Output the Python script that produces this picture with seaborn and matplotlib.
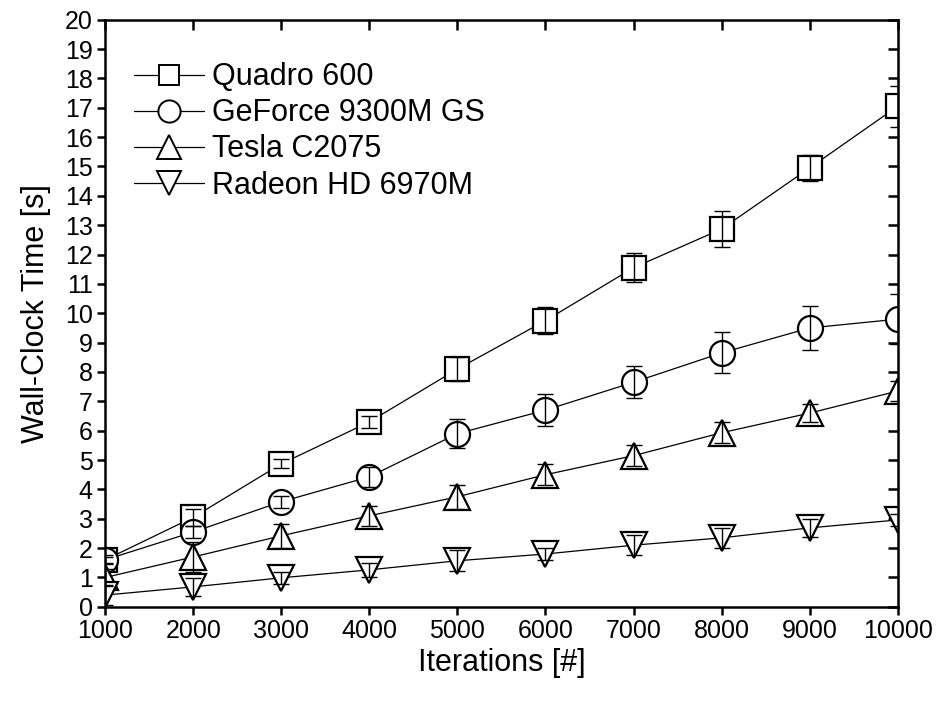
import seaborn as sns
import matplotlib.pyplot as plt
from matplotlib.lines import Line2D
import pandas as pd
import numpy as np

# datos
iteraciones = [1000, 2000, 3000, 4000, 5000, 6000, 7000, 8000, 9000, 10000]
gpus = ["Quadro 600", "GeForce 9300M GS", "Tesla C2075", "Radeon HD 6970M"]
quadro = [1.6, 3.05, 4.87, 6.3, 8.1, 9.75, 11.55, 12.87, 14.95, 17.05]
quadro_err = [0.15, 0.3, 0.15, 0.2, 0.4, 0.45, 0.5, 0.6, 0.45, 0.7]
geforce = [1.6, 2.55, 3.58, 4.43, 5.9, 6.7, 7.65, 8.65, 9.5, 9.8]
geforce_err = [0.1, 0.2, 0.2, 0.35, 0.5, 0.55, 0.55, 0.7, 0.75, 0.85]
tesla = [1.0, 1.7, 2.42, 3.1, 3.75, 4.5, 5.15, 5.93, 6.6, 7.35]
tesla_err = [0.3, 0.5, 0.4, 0.35, 0.4, 0.35, 0.35, 0.35, 0.3, 0.35]
radeon = [0.4, 0.68, 0.99, 1.26, 1.57, 1.8, 2.1, 2.35, 2.69, 2.96]
radeon_err = [0.35, 0.3, 0.2, 0.25, 0.35, 0.2, 0.35, 0.35, 0.3, 0.2]

valores = [quadro, geforce, tesla, radeon]
errores = [quadro_err, geforce_err, tesla_err, radeon_err]
marcadores = {"Quadro 600": "s", "GeForce 9300M GS": "o",
              "Tesla C2075": "^", "Radeon HD 6970M": "v"}
tamanos = {"s": 17, "o": 18, "^": 19, "v": 19}

df = pd.DataFrame({
    "Iteraciones": iteraciones * len(gpus),
    "Tiempo": sum(valores, []),
    "Error": sum(errores, []),
    "GPU": [g for g in gpus for _ in iteraciones],
})

sns.set_style("ticks")
plt.rcParams['font.family'] = ['Liberation Sans', 'DejaVu Sans']
plt.rcParams['text.color'] = 'black'
plt.rcParams['axes.labelcolor'] = 'black'
plt.rcParams['xtick.color'] = 'black'
plt.rcParams['ytick.color'] = 'black'
plt.rcParams['axes.edgecolor'] = 'black'

fig = plt.figure(figsize=(9.39, 7.04), dpi=100)
ax = fig.add_axes([0.112, 0.138, 0.844, 0.834])

# lineas
for g in gpus:
    sub = df[df["GPU"] == g]
    sns.lineplot(data=sub, x="Iteraciones", y="Tiempo", ax=ax, color="black",
                 lw=0.9, legend=False, zorder=2)
for line, g in zip(ax.get_lines(), gpus):
    m = marcadores[g]
    line.set_marker(m)
    line.set_markersize(tamanos[m])
    line.set_markerfacecolor("white")
    line.set_markeredgecolor("black")
    line.set_markeredgewidth(1.6)

# barras de error encima de los marcadores
for g in gpus:
    sub = df[df["GPU"] == g]
    ax.errorbar(sub["Iteraciones"], sub["Tiempo"], yerr=sub["Error"], fmt="none",
                ecolor="black", elinewidth=1.0, capsize=5.5, capthick=1.0, zorder=3)

ax.set_xlim(1000, 10000)
ax.set_ylim(0, 20)
ax.set_xticks(range(1000, 10001, 1000))
ax.set_yticks(range(0, 21, 1))
ax.tick_params(direction="out", length=6, width=1.8, labelsize=18, pad=3)
for s in ax.spines.values():
    s.set_linewidth(1.8)
    s.set_visible(True)

# ticks espejo hacia adentro arriba y a la derecha
top = ax.secondary_xaxis("top")
top.set_xticks(range(1000, 10001, 1000))
top.tick_params(direction="in", length=7, width=1.8, labeltop=False)
der = ax.secondary_yaxis("right")
der.set_yticks(range(0, 21, 1))
der.tick_params(direction="in", length=7, width=1.8, labelright=False)

ax.set_xlabel("Iterations [#]", fontsize=22, labelpad=3)
ax.set_ylabel("Wall-Clock Time [s]", fontsize=22, labelpad=10)

handles = [Line2D([], [], color="black", lw=0.9, marker=marcadores[g],
                  markersize=tamanos[marcadores[g]] - 2, markerfacecolor="white",
                  markeredgecolor="black", markeredgewidth=1.4) for g in gpus]
ax.legend(handles, gpus, loc="upper left", bbox_to_anchor=(-0.01, 0.99),
          frameon=False, fontsize=22, handlelength=2.3, handletextpad=0.25,
          labelspacing=0.2, borderaxespad=0.8)

plt.savefig("out.png", dpi=100)
